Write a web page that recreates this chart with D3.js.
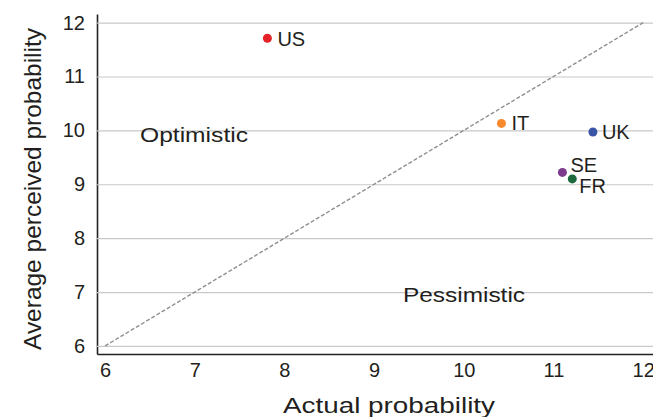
<!DOCTYPE html>
<html>
  <body style="margin:0">
    <style>
      body { background: #fff; }
      text { font-family: "Liberation Sans", Arial, sans-serif; fill: #231f20; }
    </style>
    <script src="https://d3js.org/d3.v7.min.js"></script>
    <script type="text/javascript">
      const width = 653;
      const height = 417;
      const plot = { left: 97, right: 653, top: 14, bottom: 354 };

      const countries = ['US', 'IT', 'UK', 'SE', 'FR'];
      const actual = [7.81, 10.42, 11.44, 11.10, 11.21];
      const perceived = [11.71, 10.13, 9.97, 9.22, 9.10];
      const colors = ['#e52228', '#f7882c', '#3a55a5', '#7c3b8b', '#1c6a3b'];
      const xTicks = [6, 7, 8, 9, 10, 11, 12];
      const yTicks = [6, 7, 8, 9, 10, 11, 12];

      // label offsets from each dot (px)
      const labelOffset = { US: [10, 8], IT: [10, 7], UK: [9, 7], SE: [8, 0], FR: [7, 14] };

      const points = countries.map((c, i) => ({ name: c, x: actual[i], y: perceived[i], color: colors[i] }));

      const x = d3.scaleLinear().domain([5.91, 12.11]).range([plot.left, plot.right]);
      const y = d3.scaleLinear().domain([5.85, 12.16]).range([plot.bottom, plot.top]);

      const svg = d3.select('body')
        .append('svg')
        .attr('width', width)
        .attr('height', height);

      // y axis with gridlines
      const gy = svg.append('g')
        .attr('transform', `translate(${plot.left},0)`)
        .call(d3.axisLeft(y).tickValues(yTicks).tickFormat(d3.format('d'))
          .tickSize(-(plot.right - plot.left)).tickSizeOuter(0).tickPadding(12));
      gy.selectAll('.tick line').attr('stroke', '#c9c9c9').attr('stroke-width', 1.2);
      gy.selectAll('.tick text').attr('font-size', 20).attr('font-family', '"Liberation Sans", Arial, sans-serif');
      gy.select('.domain').attr('stroke', '#222').attr('stroke-width', 1.6);

      // x axis
      const gx = svg.append('g')
        .attr('transform', `translate(0,${plot.bottom})`)
        .call(d3.axisBottom(x).tickValues(xTicks).tickFormat(d3.format('d')).tickSize(0).tickPadding(9));
      gx.selectAll('.tick text').attr('font-size', 20).attr('font-family', '"Liberation Sans", Arial, sans-serif');
      gx.select('.domain').attr('stroke', '#222').attr('stroke-width', 1.6);

      // 45 degree reference line
      svg.append('line')
        .attr('x1', x(6)).attr('y1', y(6))
        .attr('x2', x(12)).attr('y2', y(12))
        .attr('stroke', '#8f8f8f')
        .attr('stroke-width', 1.4)
        .attr('stroke-dasharray', '4,2');

      svg.selectAll('circle.pt')
        .data(points)
        .enter()
        .append('circle')
        .attr('class', 'pt')
        .attr('cx', (d) => x(d.x))
        .attr('cy', (d) => y(d.y))
        .attr('r', 4.5)
        .attr('fill', (d) => d.color);

      svg.selectAll('text.lbl')
        .data(points)
        .enter()
        .append('text')
        .attr('class', 'lbl')
        .attr('x', (d) => x(d.x) + labelOffset[d.name][0])
        .attr('y', (d) => y(d.y) + labelOffset[d.name][1])
        .attr('font-size', 20)
        .text((d) => d.name);

      // region labels
      svg.append('text')
        .attr('x', 140).attr('y', 142)
        .attr('font-size', 21)
        .attr('textLength', 108).attr('lengthAdjust', 'spacingAndGlyphs')
        .text('Optimistic');
      svg.append('text')
        .attr('x', 403).attr('y', 302)
        .attr('font-size', 21)
        .attr('textLength', 122).attr('lengthAdjust', 'spacingAndGlyphs')
        .text('Pessimistic');

      // axis titles
      svg.append('text')
        .attr('x', 283).attr('y', 413)
        .attr('font-size', 22)
        .attr('textLength', 212).attr('lengthAdjust', 'spacingAndGlyphs')
        .text('Actual probability');
      svg.append('text')
        .attr('transform', 'translate(41,350) rotate(-90)')
        .attr('font-size', 24)
        .attr('textLength', 322).attr('lengthAdjust', 'spacingAndGlyphs')
        .text('Average perceived probability');
    </script>
  </body>
</html>
